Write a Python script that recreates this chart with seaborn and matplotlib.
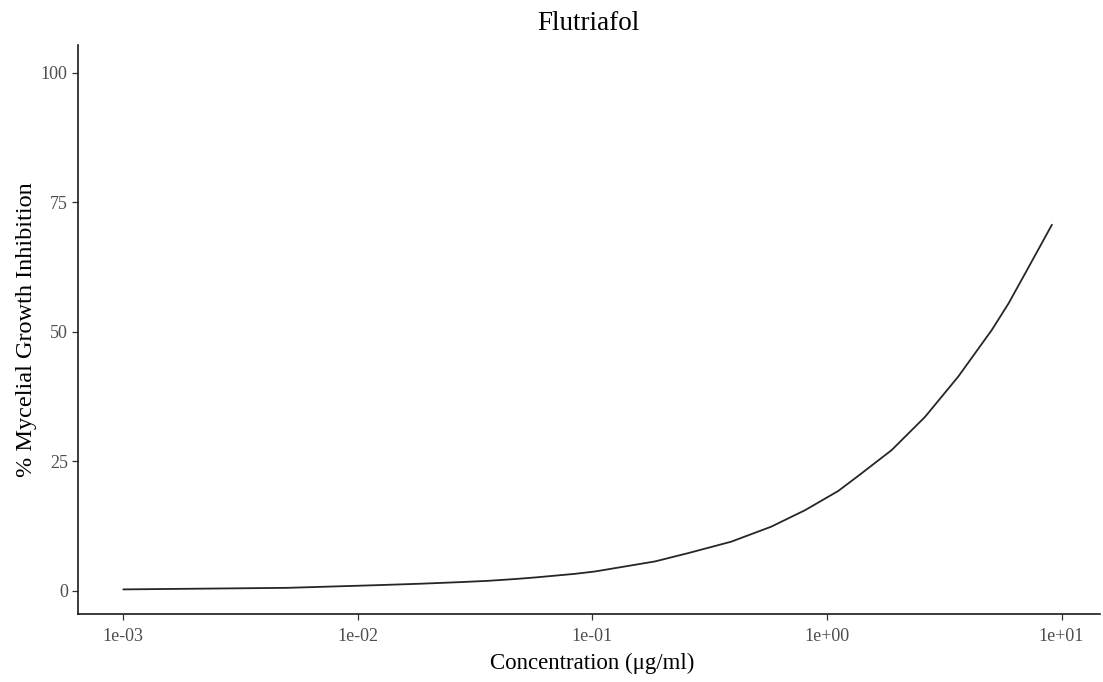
import numpy as np
import pandas as pd
import matplotlib
matplotlib.use("Agg")
import matplotlib.pyplot as plt
import seaborn as sns

# Fitted dose-response curve for Flutriafol (log10 concentration, % inhibition)
log_conc = [-3.0, -2.30, -1.93, -1.73, -1.566, -1.446, -1.33, -1.245, -1.16, -1.075,
            -0.99, -0.878, -0.733, -0.592, -0.409, -0.238, -0.093, 0.048, 0.133,
            0.276, 0.418, 0.560, 0.703, 0.774, 0.845, 0.959]
inhibition = [0.3, 0.6, 1.1, 1.4, 1.7, 1.95, 2.3, 2.6, 2.95, 3.3,
              3.75, 4.6, 5.7, 7.3, 9.5, 12.4, 15.6, 19.3, 22.2,
              27.2, 33.6, 41.4, 50.4, 55.5, 61.3, 70.7]

y_ticks = [0, 25, 50, 75, 100]
x_ticks = [1e-3, 1e-2, 1e-1, 1e0, 1e1]
x_tick_labels = ["1e-03", "1e-02", "1e-01", "1e+00", "1e+01"]

df = pd.DataFrame({"conc": [10 ** v for v in log_conc], "inhib": inhibition})

sns.set_theme(style="ticks")
plt.rcParams["font.family"] = ["Liberation Serif", "DejaVu Serif"]

W, H = 1103, 682
left, right, top, bottom = 77.5, 1100, 45, 614
fig = plt.figure(figsize=(W / 100, H / 100), dpi=100)
ax = fig.add_axes([left / W, 1 - bottom / H, (right - left) / W, (bottom - top) / H])

sns.lineplot(data=df, x="conc", y="inhib", ax=ax, color="#262626", linewidth=1.3)

ax.set_xscale("log")
ax.set_xlim(10 ** -3.195, 10 ** 1.164)
ax.set_ylim(-4.45, 105.4)
ax.set_xticks(x_ticks)
ax.set_xticklabels(x_tick_labels)
ax.minorticks_off()
ax.set_yticks(y_ticks)
ax.set_yticklabels([str(v) for v in y_ticks])

ax.tick_params(axis="both", colors="#333333", labelcolor="#4d4d4d",
               labelsize=13, length=4, width=0.9)
ax.tick_params(axis="x", pad=6)
ax.tick_params(axis="y", pad=3)
for side in ["top", "right"]:
    ax.spines[side].set_visible(False)
for side in ["left", "bottom"]:
    ax.spines[side].set_color("#1a1a1a")
    ax.spines[side].set_linewidth(1.2)

ax.set_xlabel("Concentration (μg/ml)", fontsize=16.5, color="black")
ax.set_ylabel("% Mycelial Growth Inhibition", fontsize=17.5, color="black")
ax.xaxis.set_label_coords(0.503, (bottom - 653) / (bottom - top))
ax.yaxis.set_label_coords((37 - left) / (right - left), 0.5)
ax.set_title("Flutriafol", fontsize=19.5, color="black", pad=11)

fig.savefig("out.png", dpi=100, facecolor="white")
